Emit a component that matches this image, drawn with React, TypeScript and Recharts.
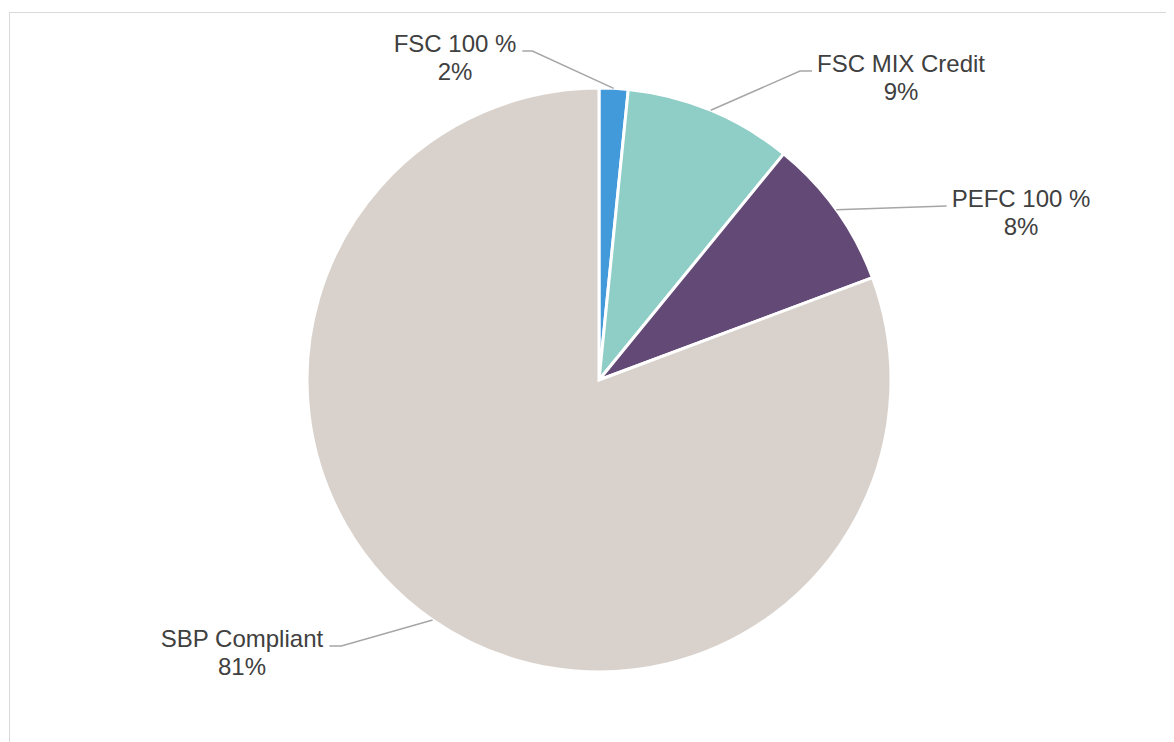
import { Cell, Pie, PieChart } from "recharts";

const CATEGORIES = ["FSC 100 %", "FSC MIX Credit", "PEFC 100 %", "SBP Compliant"];
const SHARES = [1.6, 9.3, 8.4, 80.7];
const COLORS = ["#439ADB", "#8FCDC7", "#634A76", "#D9D2CC"];

// label text centre relative to pie centre (first line baseline)
const LABEL_SPOTS = [
  { dx: -144, dy: -328 },
  { dx: 302, dy: -308 },
  { dx: 422, dy: -173 },
  { dx: -357, dy: 267 },
];
const ELBOW = [10, 12, 0, 12];

const WIDTH = 1165;
const HEIGHT = 728;
const CX = 589;
const CY = 367;
const RADIUS = 292;
const FONT_SIZE = 24;
const LINE_GAP = 28;
const FONT = "'Liberation Sans', Arial, sans-serif";
const TEXT_COLOR = "#404040";
const LEADER = "#A6A6A6";

const data = CATEGORIES.map((name, i) => ({ name, value: SHARES[i] }));

let ctx: CanvasRenderingContext2D | null = null;
function textWidth(s: string): number {
  if (!ctx) ctx = document.createElement("canvas").getContext("2d");
  if (!ctx) return s.length * FONT_SIZE * 0.55;
  ctx.font = `${FONT_SIZE}px ${FONT}`;
  return ctx.measureText(s).width;
}

const RADIAN = Math.PI / 180;

function renderLabel(props: any) {
  const { cx, cy, midAngle, outerRadius, index, name, percent } = props;
  const ax = cx + outerRadius * Math.cos(-midAngle * RADIAN);
  const ay = cy + outerRadius * Math.sin(-midAngle * RADIAN);
  const spot = LABEL_SPOTS[index];
  const tx = cx + spot.dx;
  const ty = cy + spot.dy;
  const w = Math.max(textWidth(name), textWidth(`${Math.round(percent * 100)}%`));
  const leftOfAnchor = tx < ax;
  const edge = leftOfAnchor ? tx + w / 2 + 6 : tx - w / 2 - 5;
  const lineY = ty - 1;
  const elbow = leftOfAnchor ? edge + ELBOW[index] : edge - ELBOW[index];
  return (
    <g key={`lbl-${index}`}>
      <polyline
        points={`${edge},${lineY} ${elbow},${lineY} ${ax},${ay}`}
        fill="none"
        stroke={LEADER}
        strokeWidth={1.5}
      />
      <text
        x={tx}
        y={ty}
        textAnchor="middle"
        fill={TEXT_COLOR}
        fontSize={FONT_SIZE}
        fontFamily={FONT}
      >
        <tspan x={tx} y={ty}>
          {name}
        </tspan>
        <tspan x={tx} y={ty + LINE_GAP}>
          {`${Math.round(percent * 100)}%`}
        </tspan>
      </text>
    </g>
  );
}

export default function App() {
  return (
    <div
      style={{
        position: "relative",
        left: 1,
        top: 4,
        width: 1170,
        height: 740,
        borderTop: "1px solid #D9D9D9",
        borderLeft: "1px solid #D9D9D9",
        background: "#fff",
        fontFamily: FONT,
      }}
    >
      <PieChart width={WIDTH} height={HEIGHT} margin={{ top: 0, right: 0, bottom: 0, left: 0 }}>
        <Pie
          data={data}
          dataKey="value"
          nameKey="name"
          cx={CX}
          cy={CY}
          outerRadius={RADIUS}
          startAngle={90}
          endAngle={-270}
          stroke="#FFFFFF"
          strokeWidth={3}
          label={renderLabel}
          labelLine={false}
          isAnimationActive={false}
        >
          {data.map((d, i) => (
            <Cell key={d.name} fill={COLORS[i]} />
          ))}
        </Pie>
      </PieChart>
    </div>
  );
}
